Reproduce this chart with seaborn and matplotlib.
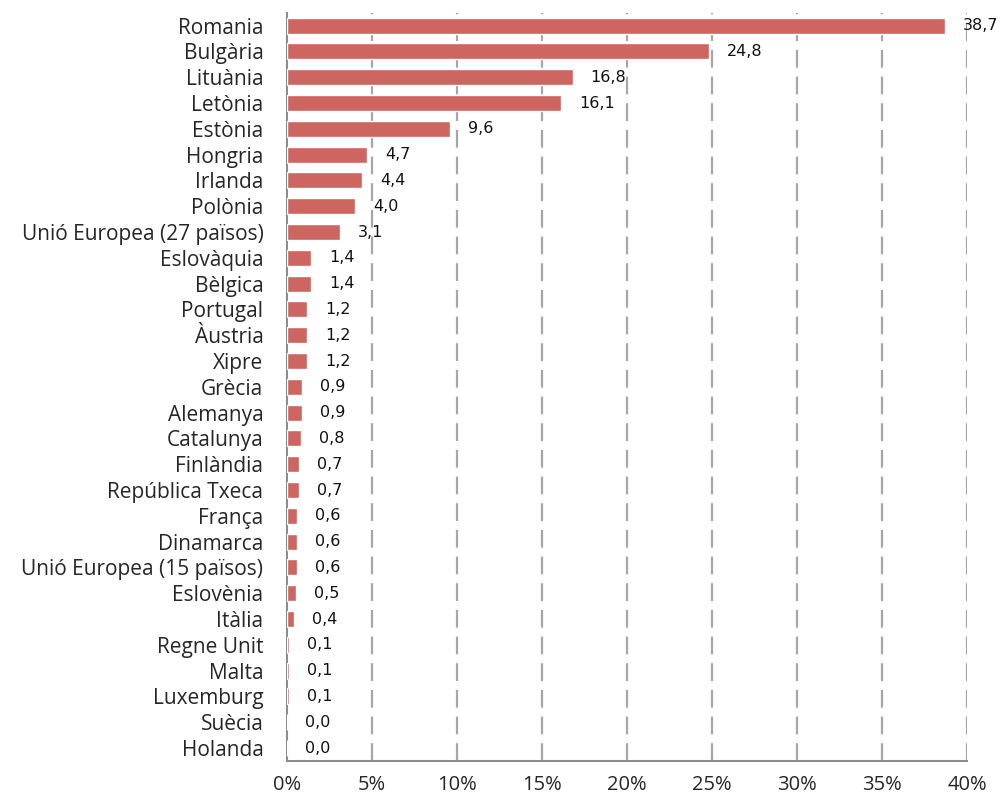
import numpy as np
import pandas as pd
import seaborn as sns
import matplotlib.pyplot as plt
from matplotlib.ticker import FixedLocator, PercentFormatter

countries = [
    "Romania", "Bulgària", "Lituània", "Letònia", "Estònia", "Hongria",
    "Irlanda", "Polònia", "Unió Europea (27 països)", "Eslovàquia", "Bèlgica",
    "Portugal", "Àustria", "Xipre", "Grècia", "Alemanya", "Catalunya",
    "Finlàndia", "República Txeca", "França", "Dinamarca",
    "Unió Europea (15 països)", "Eslovènia", "Itàlia", "Regne Unit", "Malta",
    "Luxemburg", "Suècia", "Holanda",
]
values = [
    38.7, 24.8, 16.8, 16.1, 9.6, 4.7, 4.4, 4.0, 3.1, 1.4, 1.4, 1.2, 1.2, 1.2,
    0.9, 0.9, 0.8, 0.7, 0.7, 0.6, 0.6, 0.6, 0.5, 0.4, 0.1, 0.1, 0.1, 0.0, 0.0,
]
x_ticks = [0, 5, 10, 15, 20, 25, 30, 35, 40]

df = pd.DataFrame({"pais": countries, "valor": values})

sns.set_style("white")
plt.rcParams["font.family"] = ["Open Sans", "DejaVu Sans"]

fig = plt.figure(figsize=(10, 7.96), dpi=100)
ax = fig.add_axes([0.287, 0.044, 0.68, 0.94])

sns.barplot(data=df, x="valor", y="pais", orient="h", color="#CD6560",
            saturation=1, width=0.62, ax=ax, zorder=3)

ax.set_xlim(0, 40)
ax.set_ylim(len(countries) - 0.5, -0.5)
ax.xaxis.set_major_locator(FixedLocator(x_ticks))
ax.xaxis.set_major_formatter(PercentFormatter(decimals=0))

for x in x_ticks[1:]:
    ax.axvline(x, color="#A6A6A6", lw=1.6, ls=(0, (8, 4)), zorder=1)

for i, v in enumerate(values):
    ax.annotate(f"{v:.1f}".replace(".", ","), (v, i), xytext=(13, 0),
                textcoords="offset points", ha="left", va="center",
                fontsize=11.5, family="DejaVu Sans", color="#111111")

for side in ["top", "right"]:
    ax.spines[side].set_visible(False)
for side in ["left", "bottom"]:
    ax.spines[side].set_color("#8C8C8C")
    ax.spines[side].set_linewidth(1.5)

ax.set_yticks(np.arange(-0.5, len(countries), 1), minor=True)
ax.tick_params(axis="y", which="major", length=0, labelsize=15, pad=17)
ax.tick_params(axis="y", which="minor", length=6, width=1.5, color="#8C8C8C",
               direction="out")
ax.tick_params(axis="x", which="major", length=6, width=1.5, color="#8C8C8C",
               direction="out", labelsize=14.5, pad=4)
ax.set_xlabel("")
ax.set_ylabel("")

fig.savefig("out.png", dpi=100)
